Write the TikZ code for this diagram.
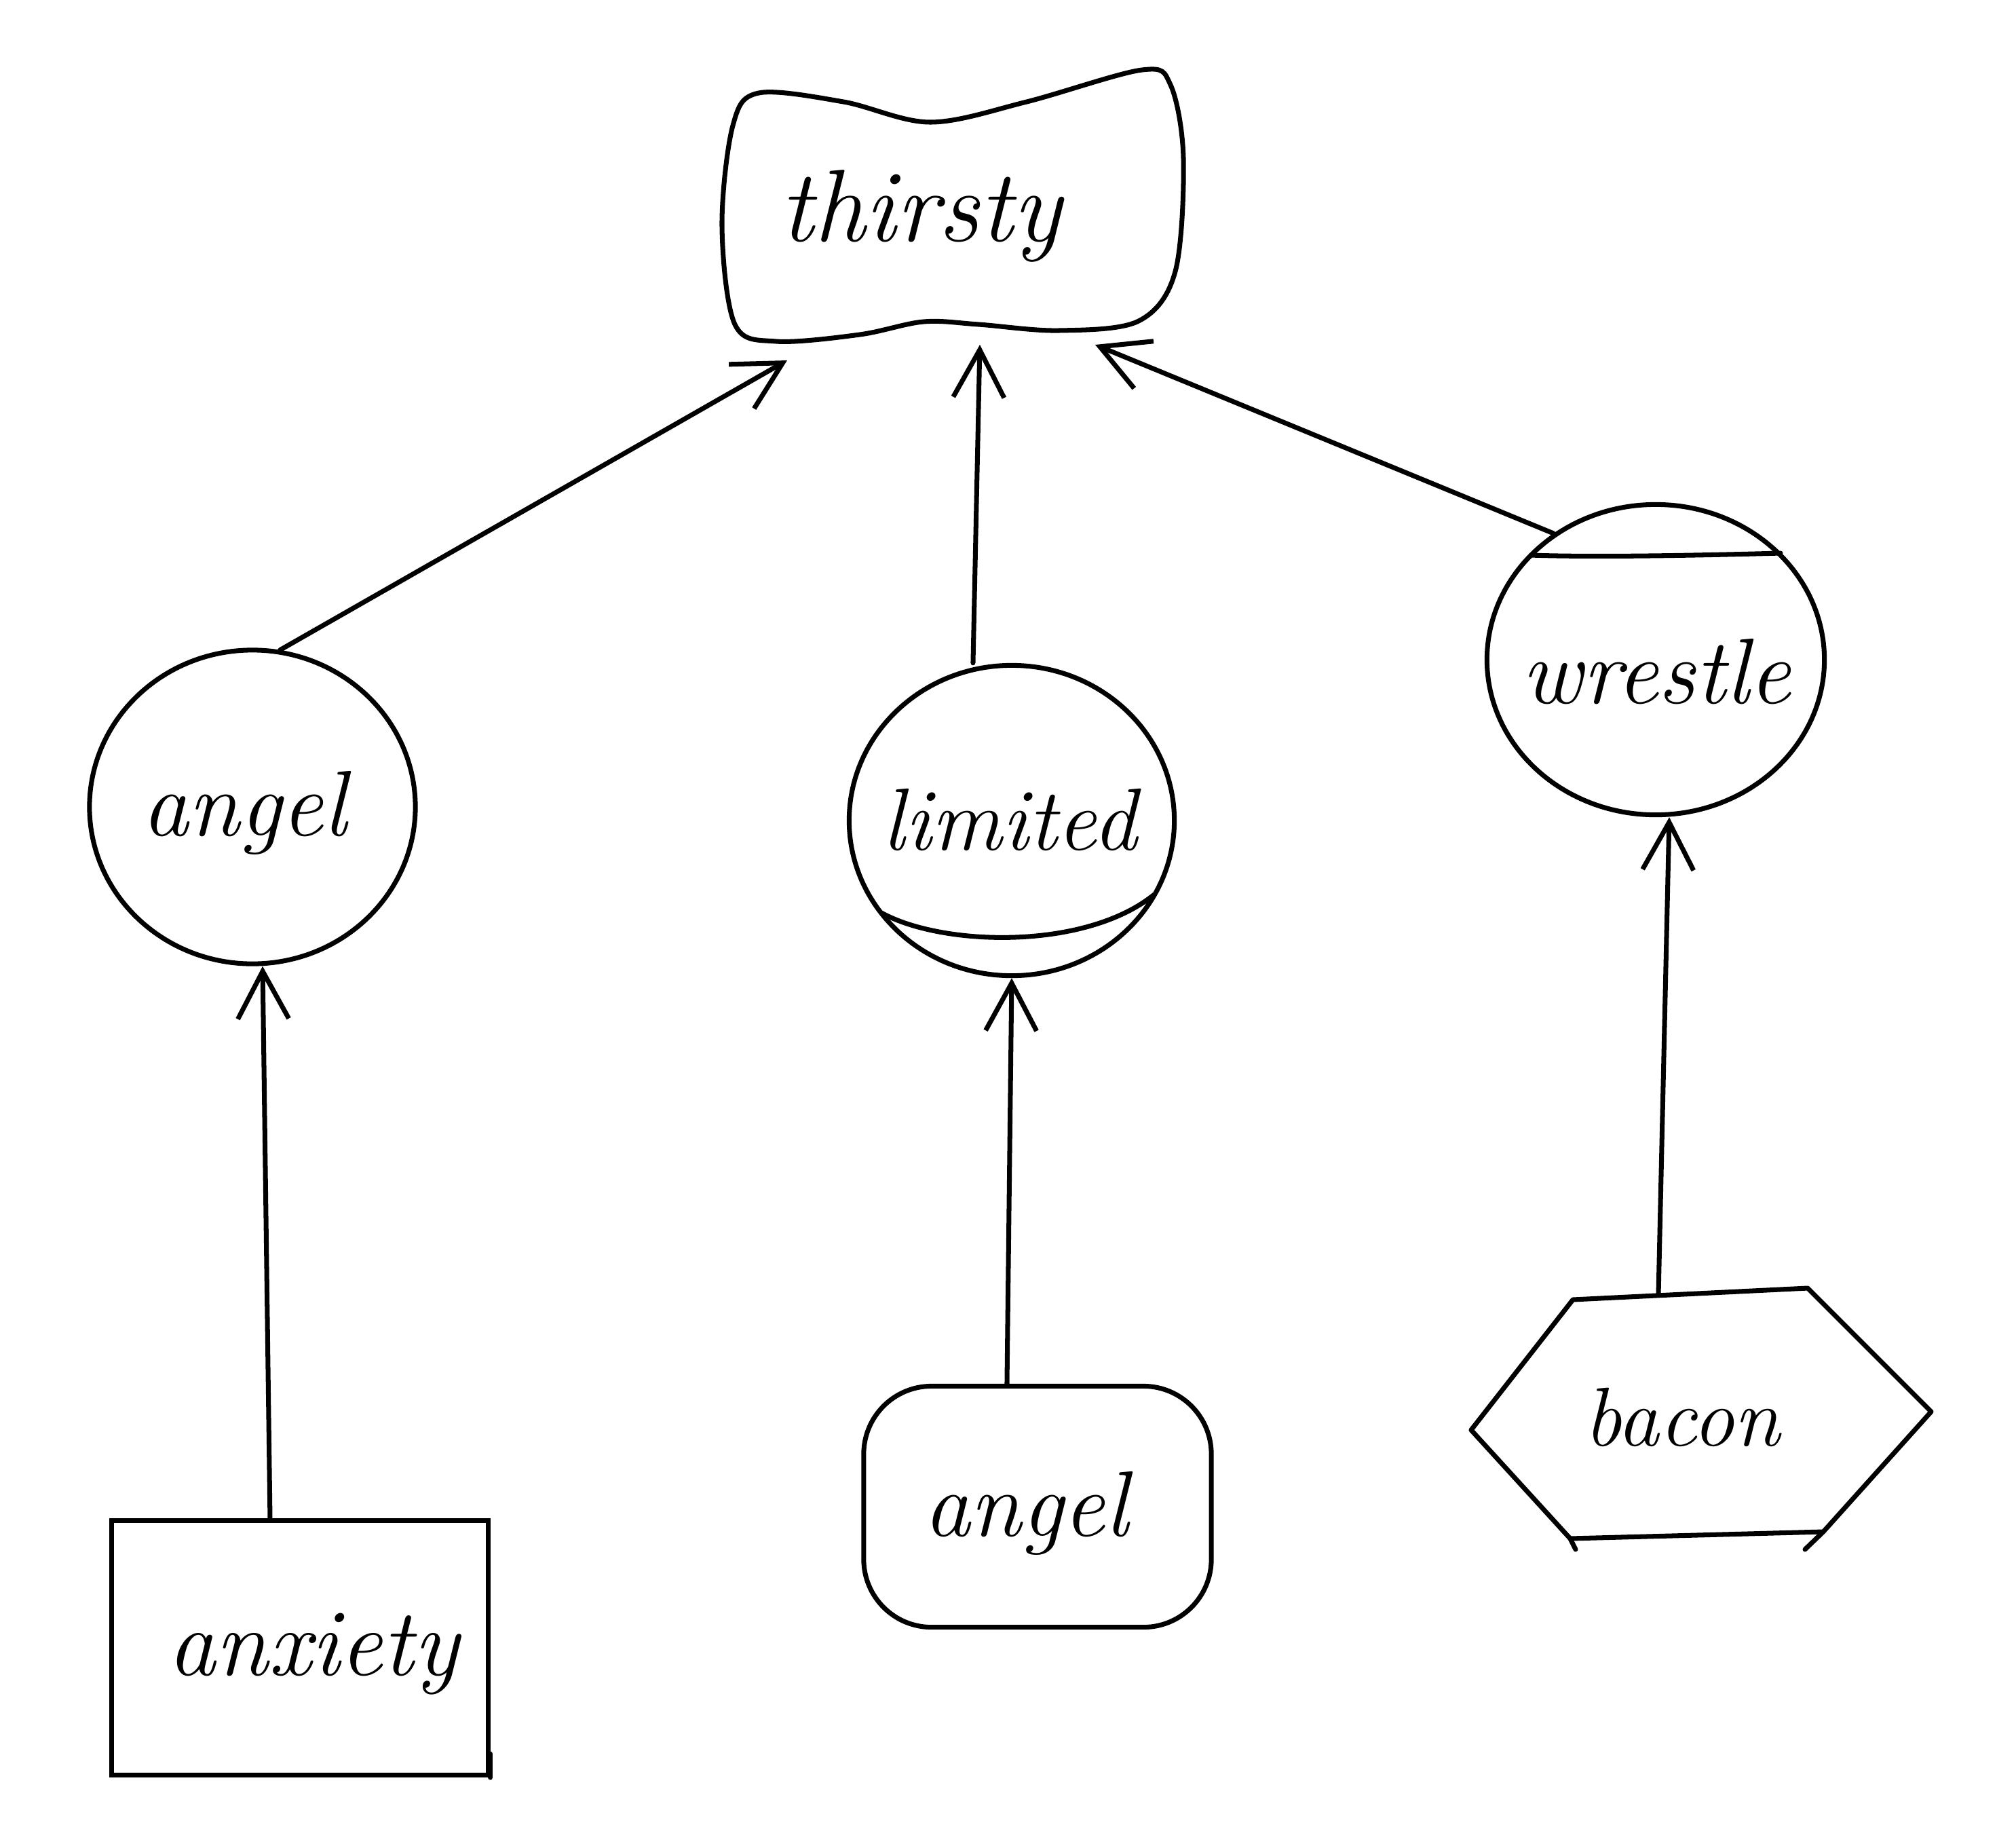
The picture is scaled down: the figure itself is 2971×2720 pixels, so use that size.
\documentclass[tikz,border=0pt]{standalone}
\usetikzlibrary{arrows.meta,shapes.geometric}
\newcommand\hwtext[1]{\fontsize{#1}{#1}\selectfont\itshape}
\begin{document}
\begin{tikzpicture}[x=0.01cm,y=-0.01cm,
  shp/.style={draw, line width=2pt, inner sep=0pt},
  lbl/.style={inner sep=0pt, font=\hwtext{#1}},
  lbl/.default=39,
  stroke/.style={line width=2pt, line cap=round, line join=round},
  arr/.style={stroke, -{Straight Barb[length=0.7cm,width=0.75cm]}}]
\path[use as bounding box, fill=white] (0,0) rectangle (2971,2720);

% thirsty (wavy box)
\draw[stroke] plot[smooth cycle, tension=0.55] coordinates {
 (1118,137) (1243,150) (1371,180) (1513,150) (1683,103) (1725,125)
 (1744,233) (1732,400) (1678,473) (1560,487) (1442,478) (1361,474)
 (1267,493) (1144,503) (1083,478) (1064,333) (1080,185)};
\node[lbl=43] (thirsty) at (1357,318) {thirsty};
\coordinate (thA) at (1160,531);
\coordinate (thB) at (1444,508);
\coordinate (thC) at (1614,508);

% angel (left circle)
\node[shp, ellipse, minimum width=4.8cm, minimum height=4.62cm] (angelL) at (372,1189) {};
\node[lbl=39] (angelLt) at (360,1198) {angel};

% limited (circle with lower chord)
\node[shp, ellipse, minimum width=4.79cm, minimum height=4.57cm] (limited) at (1491,1209) {};
\draw[stroke] (1299,1345) .. controls (1390,1395) and (1600,1400) .. (1701,1318);
\node[lbl=37] (limitedt) at (1488,1208) {limited};

% wrestle (circle with upper chord)
\node[shp, ellipse, minimum width=4.97cm, minimum height=4.57cm] (wrestle) at (2440,972) {};
\draw[stroke] (2256,818) .. controls (2340,821) and (2480,819) .. (2624,815);
\node[lbl=39] (wrestlet) at (2441,990) {wrestle};

% anxiety (rectangle)
\node[shp, rectangle, minimum width=5.54cm, minimum height=3.75cm] (anx) at (442,2428) {};
\draw[stroke] (anx.south east) -- ++(0,-35);
\node[lbl=40] (anxt) at (462,2437) {anxiety};

% angel (rounded box)
\node[shp, rectangle, rounded corners=1cm, minimum width=5.12cm, minimum height=3.55cm] (angelB) at (1529,2220) {};
\node[lbl=39] (angelBt) at (1512,2230) {angel};

% bacon (hexagon)
\draw[stroke] (2318,1915) -- (2664,1898) -- (2846,2080) -- (2687,2257)
  -- (2314,2267) -- (2168,2107) -- cycle;
\draw[stroke] (2314,2267) -- (2322,2283);
\draw[stroke] (2687,2257) -- (2660,2283);
\node[lbl=35] (bacon) at (2479,2088) {bacon};
\coordinate (baconT) at (2444,1908);

% connectors
\draw[arr] ([xshift=-0.44cm]anx.north) -- ([xshift=0.15cm]angelL.south);
\draw[arr] ([xshift=-0.45cm]angelB.north) -- (limited.south);
\draw[arr] (baconT) -- ([xshift=0.2cm]wrestle.south);
\draw[arr] (angelL.80) -- (thA);
\draw[arr] ([xshift=-0.57cm]limited.north) -- (thB);
\draw[arr] (wrestle.129) -- (thC);
\end{tikzpicture}
\end{document}
